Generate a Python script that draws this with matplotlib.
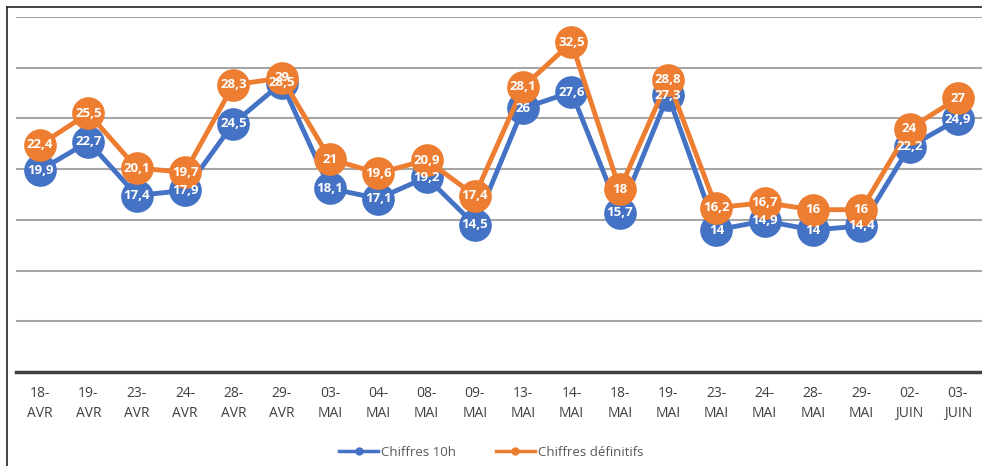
import matplotlib

matplotlib.use("Agg")
import matplotlib.pyplot as plt
from matplotlib.lines import Line2D

plt.rcParams["font.family"] = ["Open Sans", "DejaVu Sans"]

dates = ["18-\nAVR", "19-\nAVR", "23-\nAVR", "24-\nAVR", "28-\nAVR", "29-\nAVR",
         "03-\nMAI", "04-\nMAI", "08-\nMAI", "09-\nMAI", "13-\nMAI", "14-\nMAI",
         "18-\nMAI", "19-\nMAI", "23-\nMAI", "24-\nMAI", "28-\nMAI", "29-\nMAI",
         "02-\nJUIN", "03-\nJUIN"]
chiffres_10h = [19.9, 22.7, 17.4, 17.9, 24.5, 28.5, 18.1, 17.1, 19.2, 14.5,
                26, 27.6, 15.7, 27.3, 14, 14.9, 14, 14.4, 22.2, 24.9]
chiffres_def = [22.4, 25.5, 20.1, 19.7, 28.3, 29, 21, 19.6, 20.9, 17.4,
                28.1, 32.5, 18, 28.8, 16.2, 16.7, 16, 16, 24, 27]

C_BLUE, C_ORANGE = "#4472c4", "#ed7d31"


def fmt(v):
    return f"{v:g}".replace(".", ",")


fig = plt.figure(figsize=(9.82, 4.66), dpi=100)
ax = fig.add_axes([16 / 982, 1 - 372 / 466, 966 / 982, 355 / 466])

x = list(range(len(dates)))
ax.plot(x, chiffres_10h, "-o", color=C_BLUE, lw=3.5, ms=22.5, zorder=3)
ax.plot(x, chiffres_def, "-o", color=C_ORANGE, lw=3.5, ms=22.5, zorder=4)
for series in (chiffres_10h, chiffres_def):
    for xi, v in zip(x, series):
        ax.text(xi, v, fmt(v), ha="center", va="center", color="white",
                fontsize=9.5, fontweight="bold", zorder=6)

ax.set_xlim(-0.5, len(dates) - 0.5)
ax.set_ylim(0, 35)
ax.set_yticks(range(5, 36, 5))
ax.yaxis.grid(True, color="#a6a6a6", lw=1.5)
ax.set_axisbelow(True)
ax.tick_params(axis="y", left=False, labelleft=False)
ax.set_xticks(x, dates)
ax.tick_params(axis="x", length=0, pad=10, labelsize=10, labelcolor="#404040")
for lab in ax.get_xticklabels():
    lab.set_linespacing(1.45)
for s in ["top", "right", "left"]:
    ax.spines[s].set_visible(False)
ax.spines["bottom"].set_color("#404040")
ax.spines["bottom"].set_linewidth(2.5)

handles = [Line2D([], [], color=C_BLUE, lw=2.5, marker="o", ms=5),
           Line2D([], [], color=C_ORANGE, lw=2.5, marker="o", ms=5)]
fig.legend(handles, ["Chiffres 10h", "Chiffres définitifs"], loc="center",
           bbox_to_anchor=(0.5, 1 - 452 / 466), ncol=2, frameon=False,
           fontsize=9.5, labelcolor="#595959", handlelength=3, columnspacing=3,
           handletextpad=0.2)

# black frame round the chart
fig.add_artist(Line2D([7 / 982, 7 / 982], [0, 1 - 7 / 466], color="#222222", lw=1.2))
fig.add_artist(Line2D([7 / 982, 1], [1 - 7 / 466, 1 - 7 / 466], color="#222222", lw=1.2))

fig.savefig("out.png", dpi=100)
